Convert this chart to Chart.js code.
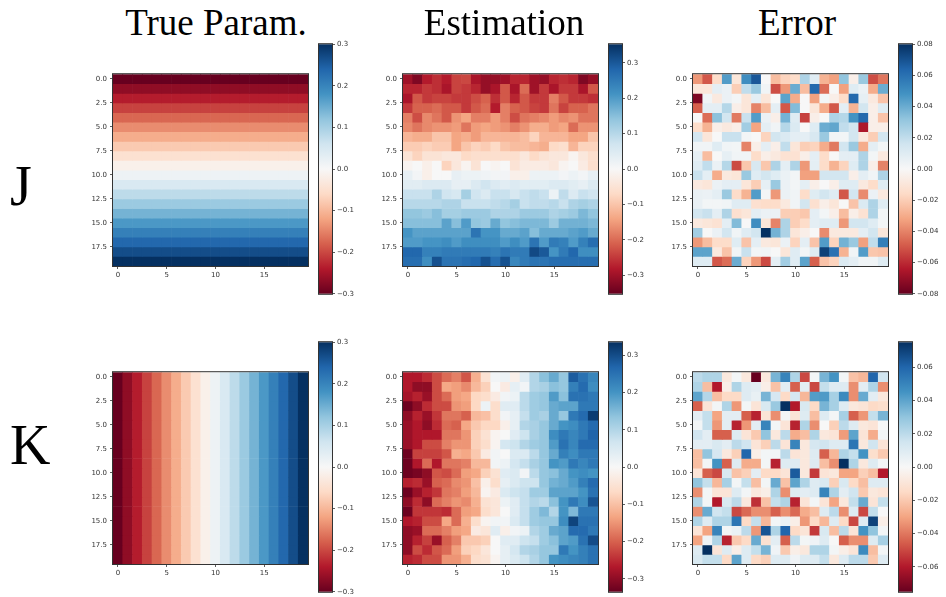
<!DOCTYPE html>
<html>
<head>
<meta charset="utf-8">
<script src="https://cdn.jsdelivr.net/npm/chart.js@4.4.1/dist/chart.umd.min.js"></script>
<style>
  body { margin: 0; background: #fff; width: 946px; height: 597px; position: relative; overflow: hidden; }
  canvas { position: absolute; }
  .lbl { position: absolute; font-family: "Liberation Serif", "DejaVu Serif", serif; color: #000; white-space: nowrap; }
</style>
</head>
<body>
<script>
// grid indices (imshow rows / columns)
const cols = [0,1,2,3,4,5,6,7,8,9,10,11,12,13,14,15,16,17,18,19];
const rows = [0,1,2,3,4,5,6,7,8,9,10,11,12,13,14,15,16,17,18,19];

const colTitles = ['True Param.', 'Estimation', 'Error'];
const rowTitles = ['J', 'K'];

// true parameter: J varies by row, K varies by column
const trueJRow = [-0.300,-0.268,-0.237,-0.205,-0.174,-0.142,-0.111,-0.079,-0.047,-0.016,0.016,0.047,0.079,0.111,0.142,0.174,0.205,0.237,0.268,0.300];
const trueKCol = [-0.300,-0.268,-0.237,-0.205,-0.174,-0.142,-0.111,-0.079,-0.047,-0.016,0.016,0.047,0.079,0.111,0.142,0.174,0.205,0.237,0.268,0.300];

// estimation, values x100
const estJ = [
  [-30,-33,-28,-26,-28,-24,-23.5,-29,-31,-31,-30,-27,-27,-30,-31,-27,-26,-27,-33,-31],
  [-27,-27,-25,-26,-29,-24,-25,-27,-31,-29,-22,-29,-20,-30,-25,-29,-25,-25,-29,-22],
  [-29,-22,-25,-24,-24,-25,-25,-23,-21,-26,-22,-27,-22,-25,-25,-18,-22,-25,-25,-26],
  [-25,-21,-21,-20,-22,-22,-25,-22,-20,-28,-18,-21,-22,-24,-25,-19,-24,-21,-21,-19],
  [-18,-23,-17,-19,-22,-16,-14,-18,-18,-15,-18,-23,-19,-18,-17,-15,-17,-16,-19,-19],
  [-17,-19,-17,-16,-16,-15,-19,-15,-14,-15,-16,-18,-16,-13,-13,-15,-14,-20,-16,-16],
  [-12,-13,-13,-10,-10,-14,-13,-15,-12,-12,-12,-12,-11,-8,-12,-12,-12,-14,-14,-10],
  [-9,-9,-8,-9,-9,-14,-10,-8,-9,-7,-10,-11,-11,-12,-13,-7,-6,-12,-8,-8],
  [-5,-8,-5,-5,-4,-4,-7,-6,-6,-6,-6,-6,-4,-7,-5,-4,-4,-1,-4,-6],
  [-1,0,-2,0,-8,-4,-1,-5,0,-1,0,-5,-3,-3,-3,-4,-1,0,-3,-6],
  [3,1,-2,0,0,3,2,2,1.5,1,1,-2,-2,2,2,2,1,2,1,3],
  [4,4,5,5,5,3,3,5,7,5,4,5,4,4,4,5,5,4,3,5],
  [8,8,8,11,7,6,12,7,5,8,8,6,8,9,8,2,9,5,8,7],
  [10,10,10,10,11,11,8,8,8,9,10,12,8,9,9,10,8,11,12,11],
  [14,14,13,15,12,12,13,13,13,11,11,11,13,13,13,11,12,13,16,14],
  [15,15,15,15,19,15,20,14,13,18,14,15,16,16,16,13,17,17,17,16],
  [21,19,19,19,19,19,19,26,21,21,18,18,19,15,18,18,18,19,20,18],
  [20,20,21,21,22,20,22,22,22,22,20,22,20,26,20,25,24,20,24,27],
  [28,28,24,24,25,25,25,25,25,24,26,25,25,32,30,21,25,28,22,22],
  [27,27,22,31,26,26,27,28,31,27,31,23,25,26,26,27,27,27,27,27]
];
const estK = [
  [-27,-27,-25,-22,-19,-17,-21,-12,-5,1,2,-2,4,10,14,17,13,28,25,22],
  [-27,-30,-30,-22,-13,-14,-16,-11,-8,0,-3,3,1,10,11,14,13,23,26,21],
  [-28,-26,-29,-22,-19,-14,-13,-7,-6,-3,1,2,9,12,13,19,14,25,25,24],
  [-33,-30,-25,-22,-22,-15,-14,-7,2,-6,4,4,9,12,13,17,18,18,24,24],
  [-30,-26,-29,-24,-18,-18,-20,-11,-10,-6,1,3,8,12,11,17,13,24,26,32],
  [-29,-27,-30,-25,-19,-20,-13,-9,-7,-7,-2,3,10,11,13,17,20,21,24,26],
  [-29,-27,-27,-27,-18,-18,-15,-8,-5,-1,0,4,7,11,13,21,24,22,24,27],
  [-29,-27,-22,-22,-17,-15,-15,-8,-6,-1,6,7,10,12,13,19,25,22,26,26],
  [-33,-23,-23,-23,-21,-12,-13,-9,-3,1,0,5,5,9,13,17,23,21,24,24],
  [-33,-27,-19,-27,-18,-18,-17,-11,-11,1,2,6,8,11,13,20,19,24,22,24],
  [-33,-32,-30,-21,-22,-19,-14,-13,-8,-5,4,5,1,9,13,14,17,20,21,20],
  [-26,-25,-29,-20,-19,-16,-15,-10,-2,-6,3,5,7,7,13,16,17,19,23,26],
  [-33,-29,-26,-24,-18,-17,-14,-11,-1,-3,5,7,8,12,12,18,18,18,20,25],
  [-30,-25,-30,-19,-17,-15,-16,-12,-5,-4,2,4,8,10,9,14,20,24,21,29],
  [-33,-24,-24,-24,-25,-19,-14,-13,-6,-4,0,4,8,12,15,10,20,15,24,24],
  [-27,-26,-22,-22,-13,-19,-12,-6,-1,1,1,5,8,12,13,13,21,31,25,25],
  [-30,-29,-19,-19,-17,-14,-13,-3,-4,4,-2,1,2,10,12,17,18,26,26,24],
  [-30,-26,-23,-29,-20,-17,-9,-9,-8,0,4,4,7,8,12,14,18,19,25,30],
  [-30,-22,-25,-21,-19,-14,-8,-7,-4,0,3,6,10,11,13,13,24,20,23,25],
  [-26,-25,-22,-22,-15,-15,-12,-6,-5,-1,3,5,7,10,13,20,21,22,23,25]
];

// error (estimation - true), values x100
const errJ = [
  [-3.5,-5,-1.5,4.5,-1,5,6.8,0,-2.5,-1.8,-1.5,2.5,1,-2.8,-3.3,3.2,-0.5,3,-5.2,-4.3],
  [-1,-1,0.8,0.5,-2,2,3,0.3,-5.2,-3.5,4,-2.5,6.3,-4.5,0,-3.3,1,0.5,-3,4],
  [-7.5,0.3,-0.8,0.5,0.2,-1,0.8,-1,0,4.3,-3,0,-3.3,0.2,-0.5,-1.5,6.3,0.7,-0.8,-2.3],
  [-4.8,0.8,0.8,2.3,-0.5,-1,-4,-2.5,0.8,-5,3.5,0,-1,-3,-5,0.8,-2.8,1.5,-0.5,1],
  [0,-4.5,3.3,1.5,-4.2,1.8,4.5,0.5,-0.5,3.8,1,-5.5,-0.5,0,2.5,2.3,4.8,6.3,-0.5,-2.3],
  [-1.5,-2.8,-0.5,-0.8,-0.5,2.8,-3.2,0.8,0.3,2.3,1.2,0,1,4,4.2,2,1.5,-6.5,-0.5,-0.5],
  [1.5,-1,0,1.8,1.8,0.2,0,-1.8,1.5,1.2,0.8,0.8,1.3,3,0.2,0.2,1.5,-0.8,-2,1.5],
  [0.3,0.3,1,0.3,0.2,-4,-0.5,0.8,-0.5,2,-1,-2,-1.8,-3,-4.2,1.5,3,-3,0.8,0.2],
  [0.7,-2.5,0,0.7,0.3,0.3,-1.5,-0.5,-0.8,-1.2,-1.2,-0.5,0.8,-1.5,0,0.8,0.8,2.5,0.2,-0.8],
  [1,2,0.5,2.3,-5.3,-2.2,1.3,-2.2,2.5,0.8,2.5,-3.5,0.8,-1.5,-2.8,-1.8,1,2.5,-0.5,-4],
  [1.8,0.8,-3,-0.8,-1,3,1,1.5,1,0.5,0.2,-3.3,-3.3,1.5,1.5,1.5,-0.5,0.8,0.3,2.5],
  [-0.8,-1,0.5,0.8,0.8,-1,-2,0.7,3,0.5,0.2,0.8,-0.5,0,-0.5,1,1,-0.8,-1.5,1],
  [0.6,0.5,0.8,3,-1.5,-2.8,4.5,0.2,-3.5,0.5,0.3,-1.5,1,1.5,1,-5,1.5,-3.8,0.5,-0.8],
  [0.6,0.2,0.2,0.3,1,1,-1.3,-1.5,-1.5,-0.8,0.3,1.5,-1.3,-0.5,-1,0,-2.3,1.2,2.5,1],
  [1.5,1.8,0.8,2.5,-1.3,-1,0.8,0.5,0.5,-2,-2,-2.2,0.8,0.2,-0.5,-2.5,-0.5,-1.2,2.5,0.2],
  [-0.8,-1,-1.2,0.8,3.5,0,5,-1,-4,2.5,-2,-1.5,0.8,1,1,-3.5,1.5,1.5,1,0.2],
  [2.8,0,0.5,1.5,0.3,1,1.5,8,3.8,2.5,-1,-0.5,0,-3.8,-0.8,-0.8,-0.8,0.8,1.5,-1],
  [-3.5,-2.5,-1.5,-1.5,1,-2.3,0.8,-0.8,-1,0.5,-1.8,0.8,-2.3,4.5,-1.8,3.8,3,-3.3,2,5.5],
  [4.3,4.3,-0.8,-2.3,0.3,1.8,0.2,0.3,0,-1,1,0.2,1,7.5,6,-2.8,0.3,4.5,-2.2,-2.3],
  [1,1,-5,-4.5,4,-1.8,-3.5,-5.3,0.8,2.8,1,4.3,-4.8,-2.3,-1.8,1.2,0.8,0.3,0.3,1]
];
const errK = [
  [2,2.3,2.3,-0.8,0.2,-0.8,-7.5,-0.8,3.5,5,2.3,-5,0.2,3.5,4.5,0.2,-2.2,-2.5,6,1.5],
  [2.3,-2.3,-6,-0.5,2.3,1,0.8,-0.5,-2.2,0.8,-4.5,0.8,-5,1.8,1,1,-3.5,0.8,2.3,-3.5],
  [4,2.2,-2.3,-1.5,-1.5,1,0.6,3.5,1.3,-1.5,1.3,-2.5,4.2,4.3,2.5,4.8,-3.5,3.8,0.8,-0.8],
  [-4.5,-1,0.2,2.3,-3.3,0.2,-1,1.2,2.8,7.5,-6,1.2,-1.5,3.5,2.5,1,-0.8,-1,-1.5,-1.3],
  [0.8,1.8,-3,0.8,0.8,-4.5,-5.8,-1,-3.5,0.2,-1,1,-2.3,1,0.2,2.5,-4.5,-3.3,1.8,3.5],
  [0.2,1.8,-3.3,0.8,-5.8,-3.3,0.8,5,0.2,-1,-5.8,2.3,-3.5,0,-1.8,2,1,-0.8,-1,0],
  [1.5,0.8,-4.5,-4.5,1,-1,-2,3,-0.8,2,-2.8,-2.3,2.3,-0.8,-1,-3.2,4,-1,-2.8,0.2],
  [0.8,0.8,1.2,0.8,2,1.5,-1,-1.8,2,-1,5,-0.8,1.3,1.5,1,1,5.5,-0.8,1.5,-1],
  [-2.3,3,1.3,-0.8,-1.8,6,-0.5,0.2,0.2,2,-1,-0.8,1,-4.5,-2.5,2.3,1.8,4.5,-1.3,-2],
  [-2.3,0.2,4.5,-4.5,1,-2.8,-2.8,0.2,-5.8,1,1,-0.8,1,-2.3,-3.5,7.5,2.3,-0.8,1,0.2],
  [-1,-4.5,-5,1.2,-2.2,-1.8,0.8,-1.5,-1.5,-1,6.3,-0.8,-5.3,-1,-0.8,-3,-3,-1.8,-2.3,-6],
  [3,1.8,-2.5,2.5,0.2,1.8,-2.3,0.2,3.8,-2.2,4,2.3,1,1.2,-1.8,1.2,-1.5,-2.3,1,1],
  [-3.5,0.2,-1,-1,1,0.2,-0.8,-0.5,2.3,-3.5,1,0.8,1,5,2.3,0.8,1.5,-2,-0.8,-1],
  [2.3,0.2,-6,1.2,2,-0.8,-5.5,-2.2,1.8,2.3,-5.8,-1,0.2,-1,-3,-0.8,1.8,3.8,-1,1.8],
  [-3.5,3.8,1.5,1.8,-5,-4.3,-3.5,-3.5,-4.5,-3.5,-4.3,-2.8,-2.3,1,2,-3.5,1,-5,1.8,0],
  [2.3,1,2.3,2.3,5.5,-1.5,1.8,-2.5,0.2,0.5,-0.5,-3.3,-1.5,-2.5,1,-1.5,-5,1,7,-0.5],
  [-1,-3,5,0.2,0.5,2,-3.3,6.5,2.3,6,-1.5,-1,-5.3,1.2,-2.3,2,-1,4.5,3,0.2],
  [-3,0.3,2.3,-5.8,-2,-1.5,3.8,-1.2,0.8,-4.5,2,0.2,0.3,1,0,-4.5,-3.5,-3.5,1,2.5],
  [1,7.5,-1,1,-0.5,1,1.8,3.5,0.3,-2,-0.5,-0.8,2.3,2.3,0.2,-0.5,-1,4.8,-2.3,0.2],
  [1.2,1.8,1.8,-1.5,4,1,-1.5,-1.8,1,1,0.3,1,1,1.8,-0.8,1,2,2,-2,1]
];

// axis ticks
const xTickVals = [0, 5, 10, 15];
const yTickVals = [0, 2.5, 5, 7.5, 10, 12.5, 15, 17.5];
const cbTicksParam = [-0.3, -0.2, -0.1, 0, 0.1, 0.2, 0.3];
const cbTicksErrJ = [-0.08, -0.06, -0.04, -0.02, 0, 0.02, 0.04, 0.06, 0.08];
const cbTicksErrK = [-0.06, -0.04, -0.02, 0, 0.02, 0.04, 0.06];

// colour limits
const limTrueJ = [-0.3, 0.3];
const limEstJ = [-0.353, 0.353];
const limErrJ = [-0.08, 0.08];
const limTrueK = [-0.3, 0.3];
const limEstK = [-0.335, 0.335];
const limErrK = [-0.075, 0.075];

// matplotlib RdBu
const rdbuStops = ['#67001f','#b2182b','#d6604d','#f4a582','#fddbc7','#f7f7f7','#d1e5f0','#92c5de','#4393c3','#2166ac','#053061'];

const hexRgb = (h) => [1, 3, 5].map(i => parseInt(h.slice(i, i + 2), 16));
const rdbuRgb = rdbuStops.map(hexRgb);

const rdbu = (v, vmin, vmax) => {
    let t = (v - vmin) / (vmax - vmin);
    t = Math.max(0, Math.min(1, t)) * (rdbuRgb.length - 1);
    const i = Math.min(Math.floor(t), rdbuRgb.length - 2);
    const f = t - i;
    const c = rdbuRgb[i].map((a, k) => Math.round(a + (rdbuRgb[i + 1][k] - a) * f));
    return `rgb(${c[0]},${c[1]},${c[2]})`;
};

const tickFont = { family: 'DejaVu Sans', size: 7 };
const tickColor = '#333';
const fmtNum = (v, dec) => (v < 0 ? '\u2212' : '') + Math.abs(v).toFixed(dec);

Chart.defaults.animation = false;
Chart.defaults.responsive = false;
Chart.defaults.devicePixelRatio = 1;
Chart.defaults.plugins.legend.display = false;
Chart.defaults.plugins.tooltip.enabled = false;
Chart.defaults.events = [];

const frame = {
    id: 'frame',
    afterDatasetsDraw(chart) {
        const a = chart.chartArea;
        const ctx = chart.ctx;
        ctx.save();
        ctx.strokeStyle = '#333';
        ctx.lineWidth = 1;
        ctx.strokeRect(a.left - 0.5, a.top - 0.5, a.right - a.left + 1, a.bottom - a.top + 1);
        ctx.restore();
    }
};

const addCanvas = (left, top, w, h) => {
    const c = document.createElement('canvas');
    c.width = w; c.height = h;
    c.style.left = left + 'px';
    c.style.top = top + 'px';
    c.style.width = w + 'px';
    c.style.height = h + 'px';
    document.body.appendChild(c);
    return c;
};

const addText = (text, x, top, size, center) => {
    const d = document.createElement('div');
    d.className = 'lbl';
    d.textContent = text;
    d.style.left = x + 'px';
    d.style.top = top + 'px';
    d.style.fontSize = size + 'px';
    d.style.lineHeight = size + 'px';
    if (center) d.style.transform = 'translateX(-50%)';
    document.body.appendChild(d);
};

const tickGrid = { drawOnChartArea: false, drawTicks: true, tickLength: 3, tickColor: '#333', tickWidth: 0.8 };

const HM = 195; // heatmap side in px

const makeHeatmap = (left, top, grid, lim) => {
    const canvas = addCanvas(left - 40, top - 4, 40 + HM + 4, 4 + HM + 20);
    new Chart(canvas, {
        type: 'bar',
        data: {
            labels: cols.map(String),
            datasets: rows.map(r => ({
                data: cols.map(() => [r - 0.5, r + 0.5]),
                backgroundColor: cols.map(c => rdbu(grid[r][c], lim[0], lim[1])),
                grouped: false,
                barPercentage: 1,
                categoryPercentage: 1,
                borderWidth: 0
            }))
        },
        options: {
            layout: { padding: { left: 0, right: 4, top: 4, bottom: 0 } },
            scales: {
                x: {
                    type: 'category',
                    offset: true,
                    grid: { ...tickGrid, offset: false },
                    border: { display: false },
                    ticks: { color: tickColor, font: tickFont, padding: 2, maxRotation: 0, autoSkip: false },
                    afterBuildTicks: s => { s.ticks = s.ticks.filter(t => xTickVals.includes(t.value)); },
                    afterFit: s => { s.height = 20; }
                },
                y: {
                    type: 'linear',
                    reverse: true,
                    min: -0.5,
                    max: 19.5,
                    grid: tickGrid,
                    border: { display: false },
                    ticks: { color: tickColor, font: tickFont, padding: 3, callback: v => v.toFixed(1) },
                    afterBuildTicks: s => { s.ticks = yTickVals.map(v => ({ value: v })); },
                    afterFit: s => { s.width = 40; }
                }
            }
        },
        plugins: [frame]
    });
};

const makeColorbar = (left, top, height, lim, ticks, dec) => {
    const canvas = addCanvas(left - 2, top - 6, 2 + 13 + 34, 6 + height + 6);
    new Chart(canvas, {
        type: 'bar',
        data: {
            labels: [''],
            datasets: [{
                data: [lim],
                barPercentage: 1,
                categoryPercentage: 1,
                borderWidth: 0,
                backgroundColor: (ctx) => {
                    const chart = ctx.chart;
                    if (!chart.chartArea) return null;
                    const y = chart.scales.y;
                    const g = chart.ctx.createLinearGradient(0, y.getPixelForValue(lim[0]), 0, y.getPixelForValue(lim[1]));
                    rdbuStops.forEach((col, i) => g.addColorStop(i / (rdbuStops.length - 1), col));
                    return g;
                }
            }]
        },
        options: {
            layout: { padding: { left: 2, right: 0, top: 6, bottom: 6 } },
            scales: {
                x: { display: false },
                y: {
                    position: 'right',
                    min: lim[0],
                    max: lim[1],
                    grid: tickGrid,
                    border: { display: false },
                    ticks: { color: tickColor, font: tickFont, padding: 2, callback: v => fmtNum(v, dec) },
                    afterBuildTicks: s => { s.ticks = ticks.map(v => ({ value: v })); },
                    afterFit: s => { s.width = 34; }
                }
            }
        },
        plugins: [frame]
    });
};

// full grids for the library
const trueJ = rows.map(r => cols.map(() => trueJRow[r]));
const trueK = rows.map(() => cols.map(c => trueKCol[c]));
const pct = g => g.map(row => row.map(v => v / 100));

const hmLeft = [113, 403, 693];
const hmTop = [71, 369];
const cbTop = [44, 342];
const CBH = 250;

const panels = [
    [[trueJ, limTrueJ, cbTicksParam, 1], [pct(estJ), limEstJ, cbTicksParam, 1], [pct(errJ), limErrJ, cbTicksErrJ, 2]],
    [[trueK, limTrueK, cbTicksParam, 1], [pct(estK), limEstK, cbTicksParam, 1], [pct(errK), limErrK, cbTicksErrK, 2]]
];

panels.forEach((row, ri) => {
    row.forEach(([grid, lim, ticks, dec], ci) => {
        makeHeatmap(hmLeft[ci], hmTop[ri], grid, lim);
        makeColorbar(hmLeft[ci] + 206, cbTop[ri], CBH, lim, ticks, dec);
    });
});

// titles
const titleCenters = [216, 504, 797];
colTitles.forEach((t, i) => addText(t, titleCenters[i], 4, 37, true));
addText(rowTitles[0], 10, 158, 56, false);
addText(rowTitles[1], 10, 417, 56, false);
</script>
</body>
</html>
